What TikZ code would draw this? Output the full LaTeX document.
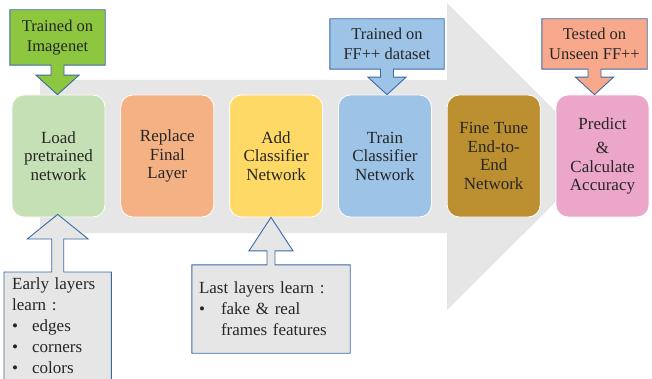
\documentclass[tikz,border=0pt]{standalone}
\usepackage{fontspec}
\setmainfont{Liberation Serif}
\usetikzlibrary{positioning}
\usetikzlibrary{calc}
\definecolor{backgray}{HTML}{E7E6E6}
\definecolor{edgeblue}{HTML}{3A6AA6}
\definecolor{txtgray}{HTML}{262626}
\definecolor{loadgreen}{HTML}{C5E0B4}
\definecolor{replaceorange}{HTML}{F4B183}
\definecolor{addyellow}{HTML}{FFD966}
\definecolor{trainblue}{HTML}{9DC3E6}
\definecolor{tunebrown}{HTML}{BC8F30}
\definecolor{predictpink}{HTML}{EBA6C9}
\definecolor{imagegreen}{HTML}{8DC63F}
\definecolor{testsalmon}{HTML}{F8A98B}
\pgfdeclarelayer{front}
\pgfsetlayers{main,front}
\newcommand{\bul}[1][20pt]{\makebox[#1][l]{\textbullet}}

\begin{document}
\begin{tikzpicture}[x=1pt,y=-1pt,
    stage/.style={rectangle, rounded corners=12pt, draw=white, line width=0.8pt,
      minimum width=93pt, minimum height=122pt, inner sep=1pt, align=center,
      text=txtgray, font=\fontsize{17}{18.5}\selectfont},
    tag/.style={inner sep=0pt, align=center, text=txtgray, font=\fontsize{16.5}{20.5}\selectfont},
    note/.style={inner xsep=8pt, inner ysep=6pt, align=left, text=txtgray, font=\fontsize{17}{21}\selectfont},
    callout/.style={draw=edgeblue, line width=0.9pt, line join=miter}]

  \clip (0,0) rectangle (652,379);

  % background arrow
  \fill[backgray] (40,80) -- (447,80) -- (447,3) -- (601,157) -- (447,310) -- (447,233) -- (40,233) -- cycle;

  % process steps
  \node[stage, fill=loadgreen] (load) at (58.5,156) {Load\\pretrained\\network};
  \node[stage, fill=replaceorange, right=15pt of load] (replace) {Replace\\Final\\Layer};
  \node[stage, fill=addyellow, right=15pt of replace] (add) {Add\\Classifier\\Network};
  \node[stage, fill=trainblue, right=15pt of add] (train) {Train\\Classifier\\Network};
  \node[stage, fill=tunebrown, right=15pt of train] (tune) {Fine Tune\\End-to-\\End\\Network};
  \node[stage, fill=predictpink, right=15pt of tune] (predict) {Predict\\[6pt]\&\\Calculate\\Accuracy};

  % callout texts
  \begin{pgfonlayer}{front}
    \node[tag, minimum width=95pt, minimum height=55pt] (imagenet) at (57.5,37.5) {Trained on\\Imagenet};
    \node[tag, minimum width=114pt, minimum height=50pt] (ffdata) at (387,44) {Trained on\\FF++ dataset};
    \node[tag, minimum width=105pt, minimum height=50pt] (unseen) at (594.5,44) {Tested on\\Unseen FF++};
    \node[note, anchor=north west, text width=91pt] (early) at (4,272)
      {Early layers\\learn :\\\bul edges\\\bul corners\\\bul colors};
    \node[note, inner xsep=7pt, inner ysep=0pt, text width=144pt, minimum height=88pt] (lastl) at (271,309)
      {Last layers learn :\\\bul[22pt]fake \& real\\\hspace*{22pt}frames features};
  \end{pgfonlayer}

  % down callouts
  \filldraw[callout, fill=imagegreen] (imagenet.north west) -- (imagenet.north east) -- (imagenet.south east)
    -- ($(imagenet.south)+(6.5,0)$) -- ++(0,10) -- ++(15,0) -- (imagenet.south |- load.north)
    -- ($(imagenet.south)+(-21.5,10)$) -- ++(15,0) -- ++(0,-10) -- (imagenet.south west) -- cycle;
  \filldraw[callout, fill=trainblue] (ffdata.north west) -- (ffdata.north east) -- (ffdata.south east)
    -- ($(ffdata.south)+(6.5,0)$) -- ++(0,8) -- ++(12.5,0) -- (ffdata.south |- train.north)
    -- ($(ffdata.south)+(-19,8)$) -- ++(12.5,0) -- ++(0,-8) -- (ffdata.south west) -- cycle;
  \filldraw[callout, fill=testsalmon] (unseen.north west) -- (unseen.north east) -- (unseen.south east)
    -- ($(unseen.south)+(6.5,0)$) -- ++(0,8) -- ++(12.5,0) -- (unseen.south |- predict.north)
    -- ($(unseen.south)+(-19,8)$) -- ++(12.5,0) -- ++(0,-8) -- (unseen.south west) -- cycle;

  % up callouts
  \filldraw[callout, fill=backgray] (early.north west) -- ($(early.north)+(-6,0)$) -- ++(0,-33) -- ++(-24.5,0)
    -- ($(early.north |- load.south)+(0,-3)$) -- ($(early.north)+(30.5,-33)$) -- ++(-24.5,0) -- ++(0,33)
    -- (early.north east) -- ($(early.north east)+(0,130)$) -- ($(early.north west)+(0,130)$) -- cycle;
  \filldraw[callout, fill=backgray] (lastl.north west) -- ($(lastl.north)+(-4,0)$) -- ++(0,-14) -- ++(-18,0)
    -- (lastl.north |- add.south) -- ($(lastl.north)+(22,-14)$) -- ++(-18,0) -- ++(0,14)
    -- (lastl.north east) -- (lastl.south east) -- (lastl.south west) -- cycle;
\end{tikzpicture}
\end{document}
